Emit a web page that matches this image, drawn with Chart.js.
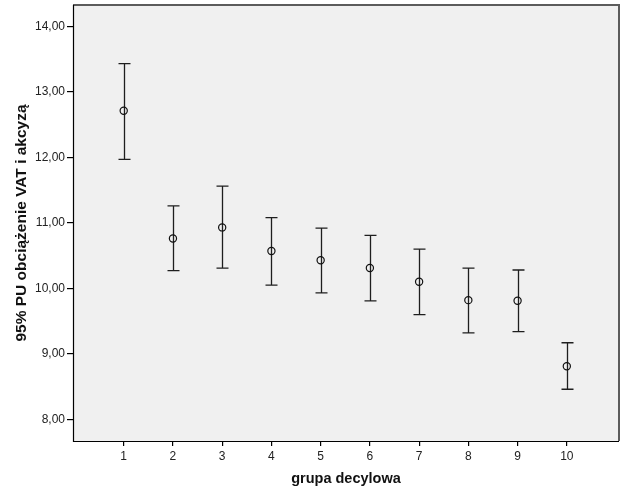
<!DOCTYPE html>
<html>
<head>
<meta charset="utf-8">
<script src="https://cdn.jsdelivr.net/npm/chart.js@4"></script>
<style>
  html, body { margin: 0; padding: 0; background: #ffffff; }
  #wrap { width: 626px; height: 501px; }
</style>
</head>
<body>
<div id="wrap"><canvas id="c" width="626" height="501"></canvas></div>
<script>
const categories = [1, 2, 3, 4, 5, 6, 7, 8, 9, 10];
const means = [12.71, 10.76, 10.93, 10.57, 10.43, 10.31, 10.10, 9.82, 9.81, 8.81];
const upperCI = [13.43, 11.26, 11.56, 11.08, 10.92, 10.81, 10.60, 10.31, 10.28, 9.17];
const lowerCI = [11.97, 10.27, 10.31, 10.05, 9.93, 9.81, 9.60, 9.32, 9.34, 8.46];
const yTickValues = [8, 9, 10, 11, 12, 13, 14];
const xTitle = 'grupa decylowa';
const yTitle = '95% PU obciążenie VAT i akcyzą';

const FONT = "'Liberation Sans', Arial, 'DejaVu Sans', sans-serif";

const frameAndBars = {
  id: 'frameAndBars',
  beforeDatasetsDraw(chart) {
    const ctx = chart.ctx;
    const xs = chart.scales.x, ys = chart.scales.y;
    ctx.save();
    ctx.strokeStyle = '#1e1e1e';
    ctx.lineWidth = 1.3;
    categories.forEach((c, i) => {
      const x = Math.round(xs.getPixelForValue(c)) + 0.5;
      const yu = ys.getPixelForValue(upperCI[i]);
      const yl = ys.getPixelForValue(lowerCI[i]);
      ctx.beginPath();
      ctx.moveTo(x, yu); ctx.lineTo(x, yl);
      ctx.moveTo(x - 6, yu); ctx.lineTo(x + 6, yu);
      ctx.moveTo(x - 6, yl); ctx.lineTo(x + 6, yl);
      ctx.stroke();
    });
    ctx.restore();
  },
  beforeDraw(chart) {
    const ctx = chart.ctx;
    const a = chart.chartArea;
    ctx.save();
    ctx.fillStyle = '#f0f0f0';
    ctx.fillRect(a.left, a.top, a.right - a.left, a.bottom - a.top);
    ctx.restore();
  },
  afterDraw(chart) {
    const ctx = chart.ctx;
    const a = chart.chartArea;
    ctx.save();
    ctx.strokeStyle = '#5c5c5c';
    ctx.lineWidth = 2;
    ctx.beginPath();
    ctx.moveTo(a.left, a.top);
    ctx.lineTo(a.right, a.top);
    ctx.lineTo(a.right, a.bottom);
    ctx.stroke();
    ctx.strokeStyle = '#000000';
    ctx.lineWidth = 1.2;
    ctx.beginPath();
    ctx.moveTo(a.left + 0.5, a.top);
    ctx.lineTo(a.left + 0.5, a.bottom + 0.5);
    ctx.lineTo(a.right, a.bottom + 0.5);
    ctx.stroke();
    ctx.restore();
  }
};

new Chart(document.getElementById('c'), {
  type: 'scatter',
  data: {
    datasets: [{
      data: categories.map((c, i) => ({ x: c, y: means[i] })),
      pointRadius: 3.6,
      pointHoverRadius: 3.6,
      pointBorderWidth: 1.2,
      pointBorderColor: '#111111',
      pointBackgroundColor: 'rgba(0,0,0,0)',
      showLine: false
    }]
  },
  options: {
    responsive: false,
    animation: false,
    devicePixelRatio: 1,
    layout: { padding: { top: 5, right: 7, left: 0, bottom: 0 } },
    plugins: { legend: { display: false }, tooltip: { enabled: false } },
    scales: {
      x: {
        type: 'linear',
        min: -0.03,
        max: 11.06,
        afterBuildTicks(scale) { scale.ticks = categories.map(v => ({ value: v })); },
        afterFit(scale) { scale.height = 60; scale.paddingLeft = 0; scale.paddingRight = 0; },
        border: { display: false },
        grid: { drawOnChartArea: false, drawTicks: true, tickLength: 5, color: '#000000', lineWidth: 1.2 },
        ticks: {
          padding: 3,
          color: '#222222',
          font: { family: FONT, size: 12 },
          maxRotation: 0,
          callback: v => String(v)
        },
        title: {
          display: true,
          text: xTitle,
          color: '#111111',
          font: { family: FONT, size: 14.5, weight: 'bold' },
          padding: { top: 0, bottom: 13 }
        }
      },
      y: {
        type: 'linear',
        min: 7.67,
        max: 14.325,
        afterBuildTicks(scale) { scale.ticks = yTickValues.map(v => ({ value: v })); },
        afterFit(scale) { scale.width = 73; scale.paddingTop = 0; scale.paddingBottom = 0; },
        border: { display: false },
        grid: { drawOnChartArea: false, drawTicks: true, tickLength: 6, color: '#000000', lineWidth: 1.2 },
        ticks: {
          padding: 2,
          color: '#222222',
          font: { family: FONT, size: 12 },
          callback: v => Number(v).toFixed(2).replace('.', ',')
        },
        title: {
          display: true,
          text: yTitle,
          color: '#111111',
          font: { family: FONT, size: 15.5, weight: 'bold' },
          padding: { top: 12.5, bottom: 0 }
        }
      }
    }
  },
  plugins: [frameAndBars]
});
</script>
</body>
</html>
